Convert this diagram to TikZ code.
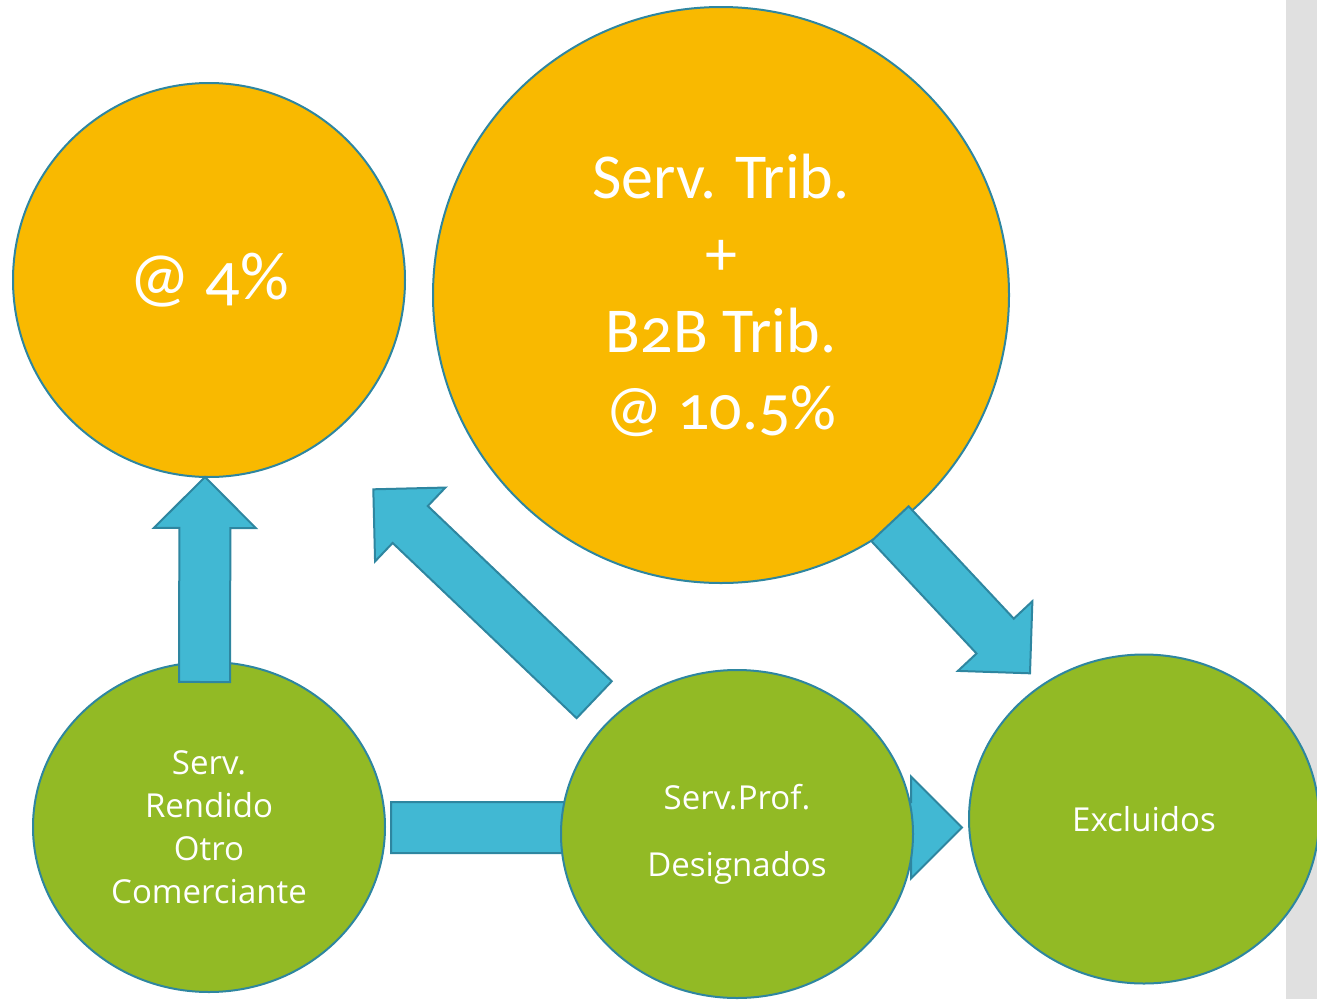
\documentclass[tikz,border=0pt]{standalone}
\usepackage{fontspec}
\newfontfamily\ballfont[Numbers=OldStyle]{Carlito}
\newfontfamily\leaffont{Open Sans}
\usetikzlibrary{shapes.geometric,calc}
\definecolor{sunball}{RGB}{249,185,0}
\definecolor{leafball}{RGB}{146,186,37}
\definecolor{skyarrow}{RGB}{65,184,211}
\definecolor{rim}{RGB}{46,134,160}
\definecolor{sidebar}{RGB}{224,224,224}
\tikzset{
  ball/.style={ellipse,draw=rim,line width=2pt,text=white,align=center,inner sep=0pt},
  sunny/.style={ball,fill=sunball,font=\ballfont\fontsize{64}{77}\selectfont},
  leafy/.style={ball,fill=leafball,font=\leaffont\fontsize{33}{43}\selectfont},
  fatarrow/.style={fill=skyarrow,draw=rim,line width=2pt,line join=miter}
}
\newcommand\blockarrow[2]{%
  \coordinate (hb) at ($(#2)!51pt!(#1)$);
  \draw[fatarrow] ($(#1)!25.5pt!90:(#2)$) -- ($(hb)!25.5pt!90:(#2)$) -- ($(hb)!51pt!90:(#2)$) -- (#2)
    -- ($(hb)!51pt!-90:(#2)$) -- ($(hb)!25.5pt!-90:(#2)$) -- ($(#1)!25.5pt!-90:(#2)$) -- cycle;}
\begin{document}
\begin{tikzpicture}[x=1pt,y=-1pt]
    \useasboundingbox (0,0) rectangle (1317,999);
    \fill[sidebar] (1286,0) rectangle (1317,999);

    \coordinate (hzTail) at (391,827.5);
    \coordinate (hzTip) at (962,827.5);
    \blockarrow{hzTail}{hzTip}

    \node[sunny,minimum width=392pt,minimum height=394pt] (four) at (209,280) {\fontsize{68}{77}\selectfont @ 4\%};
    \node[sunny,minimum width=576pt,minimum height=576pt] (trib) at (721,295) {Serv. Trib.\\+\\B2B Trib.\\@ 10.5\%};
    \node[leafy,minimum width=352pt,minimum height=330pt] (rendido) at (209,827) {Serv.\\Rendido\\Otro\\Comerciante};
    \node[leafy,minimum width=352pt,minimum height=328pt] (prof) at (737,834) {Serv.Prof.\\[24pt]Designados};
    \node[leafy,minimum width=350pt,minimum height=329pt] (excl) at (1144,819) {Excluidos};

    \coordinate (upTail) at (204.5,682);
    \coordinate (upTip) at (205,477);
    \coordinate (nwTail) at (594.2,699.7);
    \coordinate (nwTip) at (373.3,489.3);
    \coordinate (seTail) at (890,523.7);
    \coordinate (seTip) at (1030,673.3);
    \blockarrow{upTail}{upTip}
    \blockarrow{nwTail}{nwTip}
    \blockarrow{seTail}{seTip}
\end{tikzpicture}
\end{document}
